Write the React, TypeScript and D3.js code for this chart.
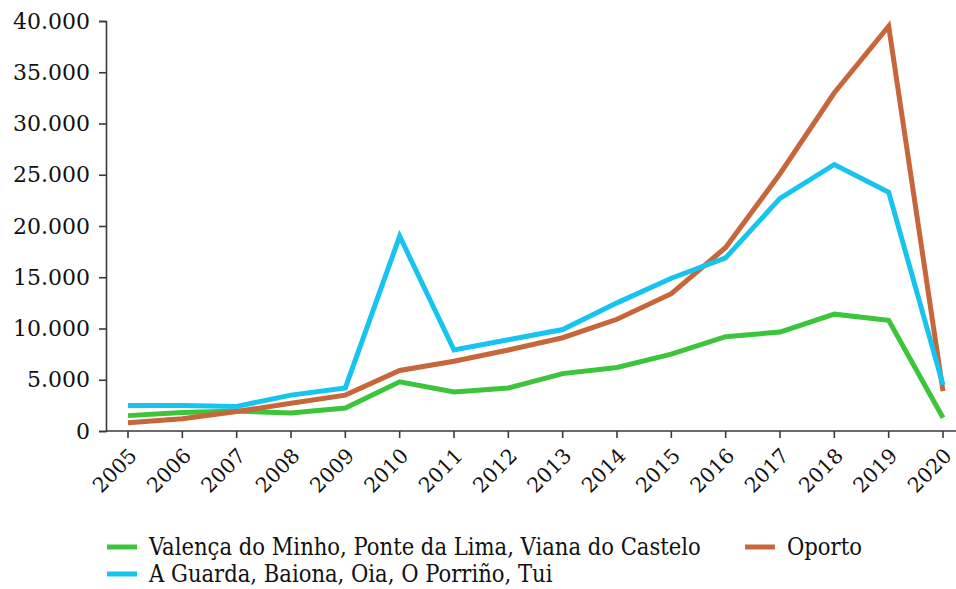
import React, { useEffect, useRef } from 'react';
import * as d3 from 'd3';

const years = ['2005', '2006', '2007', '2008', '2009', '2010', '2011', '2012', '2013', '2014', '2015', '2016', '2017', '2018', '2019', '2020'];

const valenca = [1500, 1800, 1950, 1750, 2250, 4800, 3800, 4200, 5600, 6200, 7500, 9200, 9650, 11400, 10800, 1300];
const aGuarda = [2500, 2500, 2400, 3500, 4200, 19000, 7900, 8900, 9900, 12500, 14900, 16900, 22700, 26000, 23300, 4500];
const oporto = [800, 1200, 1900, 2700, 3500, 5900, 6800, 7900, 9100, 10900, 13400, 17900, 25100, 33000, 39500, 3900];

const yTicks = [0, 5000, 10000, 15000, 20000, 25000, 30000, 35000, 40000];

const seriesNames = [
  'Valença do Minho, Ponte da Lima, Viana do Castelo',
  'A Guarda, Baiona, Oia, O Porriño, Tui',
  'Oporto',
];

const colors = ['#3cc43a', '#16c4ef', '#c6663a'];

export default () => {
  const svgRef = useRef<SVGSVGElement>(null);

  useEffect(() => {
    if (!svgRef.current) return;
    const svg = d3.select(svgRef.current);
    svg.selectAll('*').remove();

    const fmt = d3.formatLocale({ decimal: ',', thousands: '.', grouping: [3], currency: ['', '€'] }).format(',');

    const x = d3.scalePoint<string>().domain(years).range([128, 943]);
    const y = d3.scaleLinear().domain([0, 40000]).range([431, 21]);

    const axisColor = '#3a3a3a';
    const serif = '"DejaVu Serif", serif';

    // y axis
    const yAxis = svg.append('g').attr('transform', 'translate(106,0)')
      .call(d3.axisLeft(y).tickValues(yTicks).tickFormat(d => fmt(d as number)).tickSizeOuter(0).tickSize(7).tickPadding(9));
    yAxis.select('.domain').attr('stroke', axisColor).attr('stroke-width', 1.6);
    yAxis.selectAll('.tick line').attr('stroke', axisColor).attr('stroke-width', 1.6);
    yAxis.selectAll('.tick text').attr('fill', '#111').style('font-family', serif).style('font-size', '22px');

    // x axis
    const xg = svg.append('g').attr('transform', 'translate(0,431)');
    xg.append('line').attr('x1', 106).attr('x2', 956).attr('stroke', axisColor).attr('stroke-width', 1.6);
    xg.selectAll('line.tk').data(years).enter().append('line').attr('class', 'tk')
      .attr('x1', d => x(d)!).attr('x2', d => x(d)!).attr('y1', 0).attr('y2', 7)
      .attr('stroke', axisColor).attr('stroke-width', 1.6);
    xg.selectAll('text').data(years).enter().append('text')
      .attr('transform', d => `translate(${x(d)! + 5},${21}) rotate(-45)`)
      .attr('text-anchor', 'end').attr('dy', '0.35em')
      .attr('fill', '#111').style('font-family', serif).style('font-size', '20.5px')
      .text(d => d);

    const line = d3.line<number>().x((_, i) => x(years[i])!).y(d => y(d));
    const data = [valenca, oporto, aGuarda];
    const dataColors = [colors[0], colors[2], colors[1]];
    data.forEach((s, i) => {
      svg.append('path').datum(s).attr('d', line).attr('fill', 'none')
        .attr('stroke', dataColors[i]).attr('stroke-width', 5).attr('stroke-linejoin', 'miter').attr('stroke-miterlimit', 10);
    });

    // legend
    const legendFont = '"DejaVu Serif Condensed", "DejaVu Serif", serif';
    const items = [
      { name: seriesNames[0], color: colors[0], x: 107, y: 547 },
      { name: seriesNames[2], color: colors[2], x: 745, y: 547 },
      { name: seriesNames[1], color: colors[1], x: 107, y: 574 },
    ];
    const lg = svg.append('g');
    items.forEach(it => {
      lg.append('line').attr('x1', it.x).attr('x2', it.x + 30).attr('y1', it.y).attr('y2', it.y)
        .attr('stroke', it.color).attr('stroke-width', 5);
      lg.append('text').attr('x', it.x + 42).attr('y', it.y).attr('dy', '0.35em')
        .attr('fill', '#111').style('font-family', legendFont).style('font-stretch', 'condensed').style('font-size', '23.5px')
        .text(it.name);
    });
  }, []);

  return (
    <svg ref={svgRef} width={956} height={589} style={{ position: 'absolute', left: 0, top: 0, background: '#fff' }} />
  );
};
